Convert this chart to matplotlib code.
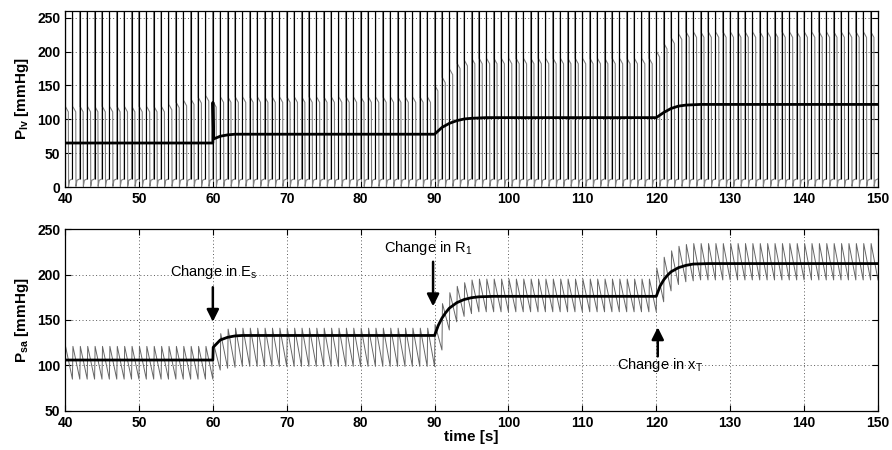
import numpy as np
import matplotlib
matplotlib.use("Agg")
import matplotlib.pyplot as plt

plt.rcParams['font.family'] = ['Liberation Sans', 'DejaVu Sans']
plt.rcParams['mathtext.fontset'] = 'custom'
plt.rcParams['mathtext.rm'] = 'Liberation Sans'
plt.rcParams['mathtext.bf'] = 'Liberation Sans:bold'
plt.rcParams['mathtext.it'] = 'Liberation Sans:italic'

# segment boundaries (s) and number of heart beats in each segment
SEG_EDGES = [40, 60, 90, 120, 150]
BEATS_PER_SEG = [20, 30, 30, 30]

# --- left ventricular pressure, per beat (mmHg) ---
plv_plateau = ([119] * 14 + [122, 125, 128, 130, 132, 135]
               + [126] + [133] * 29
               + [150, 162, 174, 183, 187] + [190] * 25
               + [200, 212, 220, 226] + [229] * 26)
PLV_SPIKE = 400        # spike runs off the top of the axes
PLV_MIN = 1
PLV_FILL = [10, 12]    # early / late filling pressure

# mean P_lv (time, value)
plv_mean_t = [40, 60, 60.01, 60.1, 61, 62, 63, 90, 91, 92, 93, 94, 95, 97,
              120, 121, 122, 123, 124, 126, 150]
plv_mean_v = [65, 65, 125, 71, 75, 77, 78, 78, 88, 94, 98, 100.5, 101.5, 102.5,
              102.5, 110, 116, 119.5, 121, 122, 122]

# --- systemic arterial pressure, per beat (mmHg) ---
psa_trough = ([85] * 20
              + [85, 95, 97, 98] + [99] * 26
              + [99, 117, 139, 148, 154, 157] + [159] * 24
              + [159, 170, 182, 189, 192, 193] + [194] * 24)
psa_peak = ([121] * 20
            + [125, 135, 140] + [141] * 27
            + [145, 168, 180, 187, 191, 194] + [195] * 24
            + [207, 219, 226, 231, 233] + [234] * 25)

# mean P_sa (time, value)
psa_mean_t = [40, 60, 60.05, 61, 62, 63, 64, 90, 90.5, 91, 91.5, 92, 93, 94, 95, 96, 98,
              120, 120.5, 121, 121.5, 122, 123, 124, 125, 127, 150]
psa_mean_v = [106, 106, 120, 128, 131, 132.5, 133, 133, 144, 152, 158, 163, 169, 172.5,
              174.5, 175.5, 176, 176, 187, 194, 199, 203, 207.5, 210, 211.5, 212, 212]

annotations = [
    ('Change in E$_\\mathrm{s}$', 60.0, 186, 148, 60.1, 203),
    ('Change in R$_\\mathrm{1}$', 89.8, 214, 165, 89.2, 229),
    ('Change in x$_\\mathrm{T}$', 120.2, 110, 142, 120.5, 100),
]


def beat_onsets():
    onsets = []
    for i, n in enumerate(BEATS_PER_SEG):
        t0, t1 = SEG_EDGES[i], SEG_EDGES[i + 1]
        step = (t1 - t0) / n
        onsets.extend(t0 + k * step for k in range(n))
    return np.array(onsets)


def build_plv(onsets):
    period = onsets[1] - onsets[0]
    t, v = [], []
    for k, t0 in enumerate(onsets):
        p = plv_plateau[k]
        t += [t0, t0 + 0.015 * period, t0 + 0.04 * period, t0 + 0.45 * period,
              t0 + 0.48 * period, t0 + 0.62 * period]
        v += [PLV_FILL[1], PLV_SPIKE, p, p - 8, PLV_MIN, PLV_FILL[0]]
    t.append(SEG_EDGES[-1])
    v.append(PLV_FILL[1])
    return t, v


def build_psa(onsets):
    period = onsets[1] - onsets[0]
    t, v = [], []
    for k, t0 in enumerate(onsets):
        t += [t0, t0 + 0.07 * period]
        v += [psa_trough[k], psa_peak[k]]
    t.append(SEG_EDGES[-1])
    v.append(psa_trough[-1])
    return t, v


def style_axes(ax):
    ax.set_xlim(40, 150)
    ax.set_xticks(np.arange(40, 151, 10))
    ax.grid(True, linestyle=(0, (1, 2.5)), color='0.35', linewidth=0.7)
    ax.tick_params(direction='in', top=True, right=True, length=4, labelsize=10)
    for lbl in ax.get_xticklabels() + ax.get_yticklabels():
        lbl.set_fontweight('bold')
    for sp in ax.spines.values():
        sp.set_linewidth(0.9)


fig = plt.figure(figsize=(8.92, 4.5), dpi=100)
ax1 = fig.add_axes([0.0729, 0.5844, 0.9114, 0.3912])
ax2 = fig.add_axes([0.0729, 0.0867, 0.9114, 0.4044])

onsets = beat_onsets()

t, v = build_plv(onsets)
ax1.plot(t, v, color='0.5', lw=0.8)
ax1.vlines(onsets, PLV_FILL[1], PLV_SPIKE, color='k', lw=0.8)
ax1.plot(plv_mean_t, plv_mean_v, color='k', lw=2)
ax1.set_ylim(0, 260)
ax1.set_yticks(np.arange(0, 251, 50))
ax1.set_ylabel('$\\mathbf{P_{lv}}$ [mmHg]', fontsize=11, fontweight='bold', labelpad=4)
style_axes(ax1)

t, v = build_psa(onsets)
ax2.plot(t, v, color='0.4', lw=0.7)
ax2.plot(psa_mean_t, psa_mean_v, color='k', lw=2)
ax2.set_ylim(50, 250)
ax2.set_yticks(np.arange(50, 251, 50))
ax2.set_ylabel('$\\mathbf{P_{sa}}$ [mmHg]', fontsize=11, fontweight='bold', labelpad=4)
ax2.set_xlabel('time [s]', fontsize=11, fontweight='bold', labelpad=0)
style_axes(ax2)

for text, ax_x, y_from, y_to, tx, ty in annotations:
    ax2.annotate('', xy=(ax_x, y_to), xytext=(ax_x, y_from),
                 arrowprops=dict(arrowstyle='-|>', color='k', lw=1.8, mutation_scale=18,
                                 shrinkA=0, shrinkB=0))
    ax2.text(tx, ty, text, fontsize=10.5, ha='center', va='center')

fig.savefig('out.png', dpi=100)
